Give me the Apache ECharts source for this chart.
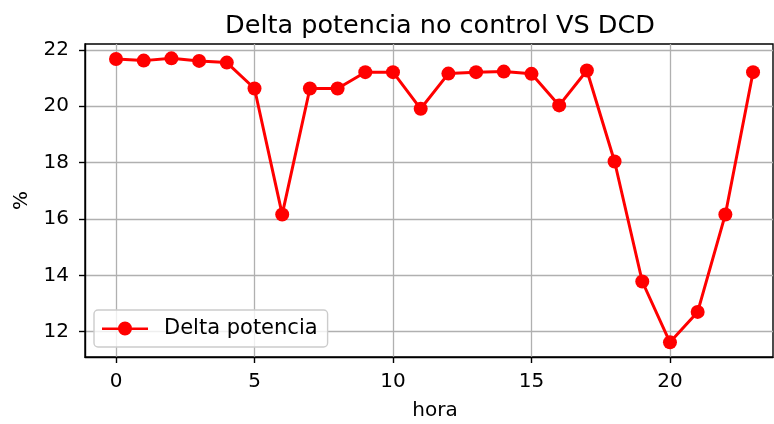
<!DOCTYPE html>
<html><head><meta charset="utf-8">
<script src="https://cdn.jsdelivr.net/npm/echarts@6/dist/echarts.min.js"></script>
<style>html,body{margin:0;padding:0;background:#fff}#c{width:774px;height:424px}</style>
</head><body><div id="c"></div>
<script>
const hours = [0,1,2,3,4,5,6,7,8,9,10,11,12,13,14,15,16,17,18,19,20,21,22,23];
const deltaPotencia = [21.68,21.62,21.70,21.61,21.55,20.63,16.16,20.63,20.63,21.21,21.21,19.91,21.16,21.21,21.23,21.15,20.03,21.27,18.04,13.78,11.62,12.70,16.16,21.21];
const xTicks = [0,5,10,15,20];
const yTicks = [12,14,16,18,20,22];

const chart = echarts.init(document.getElementById('c'), null, {renderer:'canvas'});
const font = 'DejaVu Sans';
chart.setOption({
  animation:false,
  backgroundColor:'#fff',
  title:{text:'Delta potencia no control VS DCD', left:435, top:8, textAlign:'center',
    textStyle:{fontFamily:font, fontSize:25.5, fontWeight:'normal', color:'#000'}},
  grid:{left:85, right:1, top:44, bottom:67, outerBoundsMode:'none', containLabel:false,
    show:true, borderColor:'#000', borderWidth:1.4, backgroundColor:'transparent'},
  legend:{show:true, left:94, top:310, orient:'vertical',
    itemWidth:46, itemHeight:14, itemGap:0,
    padding:[8,10,8,8],
    backgroundColor:'rgba(255,255,255,0.8)', borderColor:'#ccc', borderWidth:1.4, borderRadius:4,
    textStyle:{fontFamily:font, fontSize:21, color:'#000', padding:[0,0,0,11]},
    data:[{name:'Delta potencia', icon:'path://M0,6 L46,6 L46,8.5 L0,8.5 Z M23,0 A7,7 0 1 1 22.99,0 Z'}]
  },
  xAxis:{type:'value', min:-1.12, max:23.72,
    name:'hora', nameLocation:'middle', nameGap:44,
    nameTextStyle:{fontFamily:font, fontSize:20, color:'#000', padding:[0,0,0,12]},
    axisLine:{show:true, onZero:false, lineStyle:{color:'#000', width:1.4}},
    axisTick:{show:true, customValues:xTicks, length:6, lineStyle:{color:'#000', width:1.4}},
    axisLabel:{customValues:xTicks, fontFamily:font, fontSize:20, color:'#000', margin:15},
    splitLine:{show:true, lineStyle:{color:'#b0b0b0', width:1.3}}
  },
  yAxis:{type:'value', min:11.1, max:22.21,
    name:'%', nameLocation:'middle', nameGap:53, nameRotate:90,
    nameTextStyle:{fontFamily:font, fontSize:20, color:'#000'},
    axisLine:{show:true, onZero:false, lineStyle:{color:'#000', width:1.4}},
    axisTick:{show:true, customValues:yTicks, length:6, lineStyle:{color:'#000', width:1.4}},
    axisLabel:{customValues:yTicks, fontFamily:font, fontSize:20, color:'#000', margin:16},
    splitLine:{show:true, lineStyle:{color:'#b0b0b0', width:1.3}}
  },
  series:[{
    name:'Delta potencia', type:'line',
    data:hours.map((h,i)=>[h, deltaPotencia[i]]),
    symbol:'circle', symbolSize:14, showAllSymbol:true,
    lineStyle:{color:'#ff0000', width:3},
    itemStyle:{color:'#ff0000'}
  }]
});
</script></body></html>
